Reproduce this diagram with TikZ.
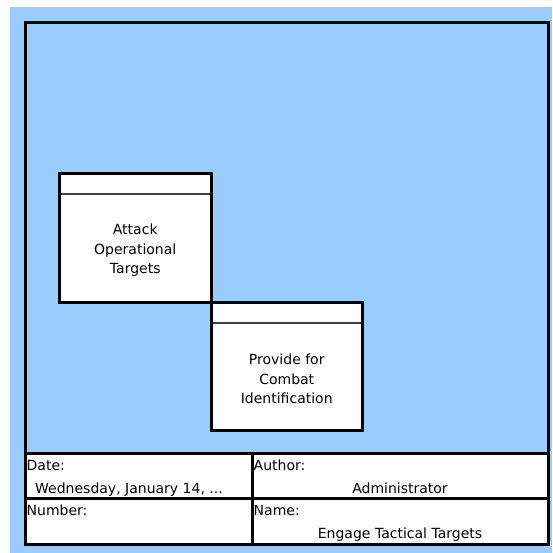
\documentclass[tikz,border=0pt]{standalone}
\usepackage{fontspec}
\setmainfont{DejaVu Sans}
\usetikzlibrary{positioning,calc}
\definecolor{cBack}{RGB}{153,204,255}
\definecolor{cRule}{RGB}{64,64,64}

\begin{document}
\begin{tikzpicture}[x=1pt,y=-1pt,
    frame/.style={draw=black,line width=3pt},
    actbox/.style={draw=black,fill=white,line width=3pt,inner sep=0pt,outer sep=0pt,
      minimum width=151.5pt,minimum height=128.5pt,anchor=north west},
    acthead/.style={draw=cRule,line width=2pt,shorten <=1.5pt,shorten >=1.5pt},
    acttext/.style={align=center,font=\fontsize{14}{19.5}\selectfont},
    cell/.style={draw=black,fill=white,line width=3pt,inner sep=0pt,outer sep=0pt,
      minimum height=45.5pt,anchor=north west},
    celltext/.style={font=\fontsize{14}{17}\selectfont,inner sep=0pt}]
  \useasboundingbox (0,0) rectangle (552,553);
  % sheet and border
  \fill[cBack] (10,7) rectangle (552,553);
  \draw[frame] (25,22.5) rectangle (548,544);

  % activities
  \node[actbox] (attack) at (59.5,173.5) {};
  \node[actbox] (combat) at (attack.south east) {};
  \foreach \b in {attack,combat}
    \draw[acthead] ([yshift=-20.5pt]\b.north west) -- ([yshift=-20.5pt]\b.north east);
  \node[acttext] (attacktxt) at ([yshift=-12.75pt]attack.center) {Attack\\Operational\\Targets};
  \node[acttext] (combattxt) at ([yshift=-13pt]combat.center) {Provide for\\Combat\\Identification};

  % title block
  \node[cell,minimum width=227pt] (date) at (25,453) {};
  \node[cell,minimum width=296pt] (author) at (date.north east) {};
  \node[cell,minimum width=227pt] (number) at (date.south west) {};
  \node[cell,minimum width=296pt] (name) at (number.north east) {};
  \foreach \c/\t in {date/Date:,author/Author:,number/Number:,name/Name:}
    \node[celltext,anchor=base west] (\c lbl) at ([xshift=1.5pt,yshift=-17pt]\c.north west) {\t};
  \node[celltext,anchor=base west] (dateval) at ([xshift=10pt,yshift=-40pt]date.north west) {Wednesday, January 14, ...};
  \node[celltext,anchor=base] (authorval) at ([yshift=-40pt]author.north) {Administrator};
  \node[celltext,anchor=base] (nameval) at ([yshift=-40pt]name.north) {Engage Tactical Targets};
\end{tikzpicture}
\end{document}
